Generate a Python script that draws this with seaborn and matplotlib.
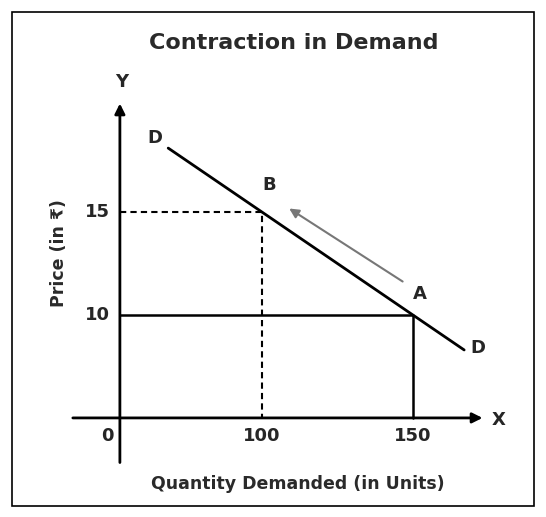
import matplotlib
matplotlib.use("Agg")
import matplotlib.pyplot as plt
import seaborn as sns
from matplotlib.patches import Rectangle

sns.set_style("white")
plt.rcParams['font.family'] = ['DejaVu Sans', 'Noto Sans']

quantity_ticks = [100, 150]
price_ticks = [10, 15]
point_labels = ["A", "B"]
point_qty = [150, 100]
point_price = [10, 15]
demand_qty = [69, 167]
demand_price = [25 - 0.1 * q for q in demand_qty]

X0, Y0 = 53, 5  # schematic origin in data units

fig = plt.figure(figsize=(5.46, 5.17), dpi=100)
ax = fig.add_axes([0, 0, 1, 1])
ax.set_xlim(13.3, 194.1)
ax.set_ylim(0.19, 25.29)
ax.axis("off")
ax.add_patch(Rectangle((0.022, 0.022), 0.956, 0.955, transform=ax.transAxes,
                       fill=False, lw=1.2, color="black"))

# axes arrows
ax.annotate("", xy=(174, Y0), xytext=(36.5, Y0),
            arrowprops=dict(arrowstyle="-|>", lw=2, color="black", mutation_scale=15))
ax.annotate("", xy=(X0, 20.4), xytext=(X0, 2.7),
            arrowprops=dict(arrowstyle="-|>", lw=2, color="black", mutation_scale=15))

# demand line
sns.lineplot(x=demand_qty, y=demand_price, ax=ax, color="black", lw=2)

# A: solid guides, B: dashed guides
ax.plot([X0, 150, 150], [10, 10, Y0], color="black", lw=1.8)
ax.plot([X0, 100, 100], [15, 15, Y0], color="black", lw=1.5, ls=(0, (3, 2)))

# movement arrow
ax.annotate("", xy=(108.3, 15.24), xytext=(147.4, 11.55),
            arrowprops=dict(arrowstyle="-|>", lw=1.5, color="#777777", mutation_scale=14))

fs = 13
for q in quantity_ticks:
    ax.text(q, 4.1, str(q), ha="center", va="center", fontsize=fs, fontweight="bold")
ax.text(48.8, 4.1, "0", ha="center", va="center", fontsize=fs, fontweight="bold")
for p in price_ticks:
    ax.text(45.5, p, str(p), ha="center", va="center", fontsize=fs, fontweight="bold")
ax.text(102.3, 16.3, point_labels[1], ha="center", va="center", fontsize=fs, fontweight="bold")
ax.text(152.3, 11.0, point_labels[0], ha="center", va="center", fontsize=fs, fontweight="bold")
ax.text(64.6, 18.6, "D", ha="center", va="center", fontsize=fs, fontweight="bold")
ax.text(171.5, 8.4, "D", ha="center", va="center", fontsize=fs, fontweight="bold")
ax.text(53.7, 21.3, "Y", ha="center", va="center", fontsize=fs, fontweight="bold")
ax.text(178.4, 4.9, "X", ha="center", va="center", fontsize=fs, fontweight="bold")
ax.text(112, 1.8, "Quantity Demanded (in Units)", ha="center", va="center",
        fontsize=12.5, fontweight="bold", color="#2a2a2a")
ax.text(32.9, 13.0, "Price (in ₹)", ha="center", va="center", rotation=90,
        fontsize=12.5, fontweight="bold", color="#2a2a2a")
ax.text(110.6, 23.2, "Contraction in Demand", ha="center", va="center",
        fontsize=16, fontweight="bold", color="#2a2a2a")

fig.savefig("out.png", dpi=100)
